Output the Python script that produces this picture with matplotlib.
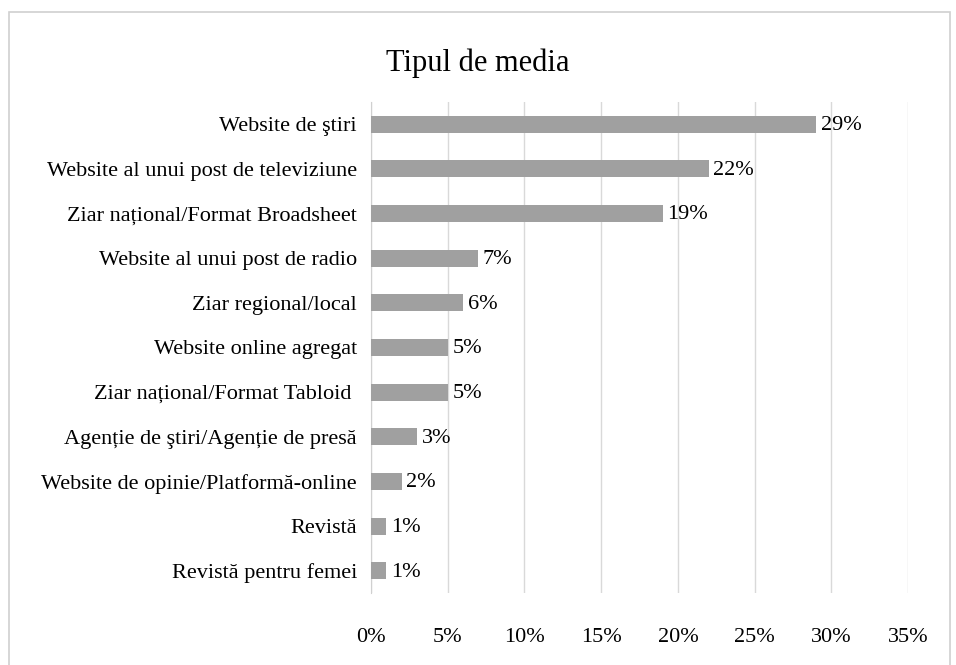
import matplotlib.pyplot as plt
from matplotlib.patches import Rectangle

# date (procente)
categorii = [
    'Website de ştiri',
    'Website al unui post de televiziune',
    'Ziar național/Format Broadsheet',
    'Website al unui post de radio',
    'Ziar regional/local',
    'Website online agregat',
    'Ziar național/Format Tabloid ',
    'Agenție de ştiri/Agenție de presă',
    'Website de opinie/Platformă-online',
    'Revistă',
    'Revistă pentru femei',
]
valori = [29, 22, 19, 7, 6, 5, 5, 3, 2, 1, 1]
ticks_x = [0, 5, 10, 15, 20, 25, 30, 35]

plt.rcParams['font.family'] = ['Liberation Serif', 'DejaVu Serif']

fig = plt.figure(figsize=(9.56, 6.65), dpi=100)
ax = fig.add_axes([0.388, 0.108, 0.562, 0.739])

y = list(range(len(categorii)))
ax.barh(y, valori, height=0.38, color='#a0a0a0', zorder=3)
ax.set_ylim(len(categorii) - 0.5, -0.5)
ax.set_xlim(0, 35)

for yi, v in zip(y, valori):
    ax.text(v + 0.3, yi + 0.03, f'{v}%', va='center', ha='left', fontsize=16, zorder=4)

ax.set_yticks(y)
ax.set_yticklabels(categorii, fontsize=16)
ax.set_xticks(ticks_x)
ax.set_xticklabels([f'{t}%' for t in ticks_x], fontsize=16)
ax.tick_params(axis='both', length=0)
ax.tick_params(axis='x', pad=25)
ax.tick_params(axis='y', pad=10)

ax.grid(axis='x', color='#d9d9d9', linewidth=1, zorder=0)
for s in ['top', 'right', 'bottom']:
    ax.spines[s].set_visible(False)
ax.spines['left'].set_color('#d0d0d0')

fig.text(0.5, 0.905, 'Tipul de media', ha='center', va='center', fontsize=22)

# chenarul graficului
fig.patches.append(Rectangle((0.009, -0.01), 0.985, 0.992, transform=fig.transFigure,
                             fill=False, edgecolor='#d0d0d0', linewidth=1.2))

fig.savefig('out.png', dpi=100)
